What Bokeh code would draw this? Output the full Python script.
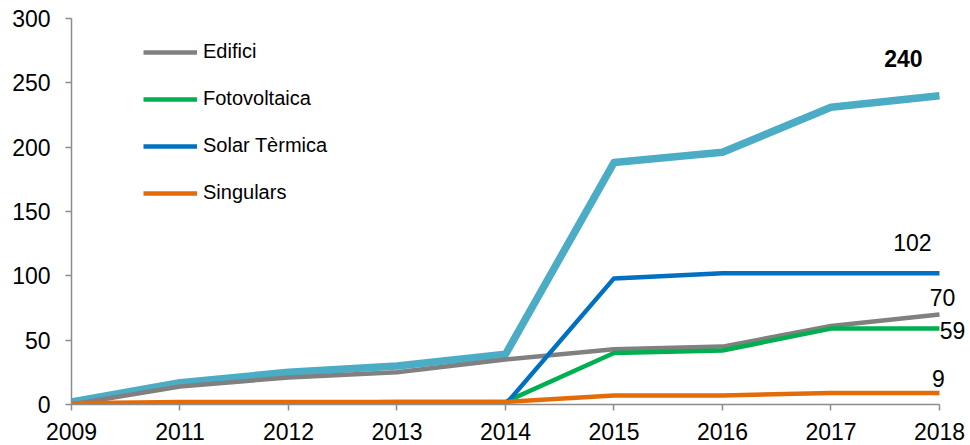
from bokeh.plotting import figure
from bokeh.models import ColumnDataSource, Legend, LegendItem, FixedTicker, Range1d, Label
from bokeh.embed import file_html
from bokeh.resources import INLINE

years = ["2009", "2011", "2012", "2013", "2014", "2015", "2016", "2017", "2018"]
total = [2, 17, 25, 30, 39, 188, 196, 231, 240]
edifici = [0, 14, 21, 25, 35, 43, 45, 61, 70]
fotovoltaica = [0, 1, 1, 2, 2, 40, 42, 59, 59]
solar_termica = [0, 0, 0, 0, 0, 98, 102, 102, 102]
singulars = [1, 2, 2, 2, 2, 7, 7, 9, 9]
y_ticks = [0, 50, 100, 150, 200, 250, 300]

FONT = "Liberation Sans"
AXIS_COL = "#8c8c8c"

xs = list(range(len(years)))
last = len(years) - 1

# extra room on the right (beyond the last year) so the end labels are not clipped
p = figure(width=970, height=445, output_backend="svg", toolbar_location=None,
           x_range=Range1d(0, last + 0.286), y_range=Range1d(0, 300),
           min_border_left=71, min_border_right=0, min_border_top=18, min_border_bottom=41)
p.outline_line_color = None
p.xgrid.visible = False
p.ygrid.visible = False

series = [
    ("Total", total, "#4BACC6", 7.5),
    ("Edifici", edifici, "#808080", 4.5),
    ("Fotovoltaica", fotovoltaica, "#00B050", 4.5),
    ("Solar Tèrmica", solar_termica, "#0070C0", 4.5),
    ("Singulars", singulars, "#E36C09", 4.5),
]
renderers = {}
for name, vals, col, w in series:
    src = ColumnDataSource(dict(x=xs, y=vals))
    renderers[name] = p.line("x", "y", source=src, line_color=col, line_width=w, line_join="round")

legend = Legend(items=[LegendItem(label=n, renderers=[renderers[n]]) for n in
                       ["Edifici", "Fotovoltaica", "Solar Tèrmica", "Singulars"]],
                location=(72, 200), orientation="vertical",
                glyph_width=54, glyph_height=20, label_height=20, spacing=24,
                label_standoff=6, padding=0, margin=0,
                border_line_alpha=0, background_fill_alpha=0,
                label_text_font=FONT, label_text_font_size="20px", label_text_color="#000000")
p.add_layout(legend, "center")

# end-of-series value labels
labels = [
    (total[last], -36, 37, "bold"),
    (solar_termica[last], -27, 31, "normal"),
    (edifici[last], 3, 17, "normal"),
    (fotovoltaica[last], 13, -2, "normal"),
    (singulars[last], -1, 14, "normal"),
]
for v, dx, dy, fs in labels:
    p.add_layout(Label(x=last, y=v, text=str(v), x_offset=dx, y_offset=dy,
                       text_font=FONT, text_font_size="23px", text_font_style=fs,
                       text_color="#000000", text_align="center", text_baseline="middle"))

for ax in (p.xaxis[0], p.yaxis[0]):
    ax.axis_line_color = AXIS_COL
    ax.axis_line_width = 1.5
    ax.major_tick_line_color = AXIS_COL
    ax.major_tick_line_width = 1.5
    ax.major_tick_out = 6
    ax.major_tick_in = 0
    ax.minor_tick_line_color = None
    ax.major_label_text_font = FONT
    ax.major_label_text_font_size = "23px"
    ax.major_label_text_color = "#000000"

p.xaxis[0].ticker = FixedTicker(ticks=xs)
p.xaxis[0].bounds = (0, last)
p.xaxis[0].major_label_overrides = {i: y for i, y in enumerate(years)}
p.xaxis[0].major_label_standoff = 12
p.yaxis[0].ticker = FixedTicker(ticks=y_ticks)
p.yaxis[0].major_label_standoff = 15

open("out.html", "w").write(file_html(p, INLINE))
